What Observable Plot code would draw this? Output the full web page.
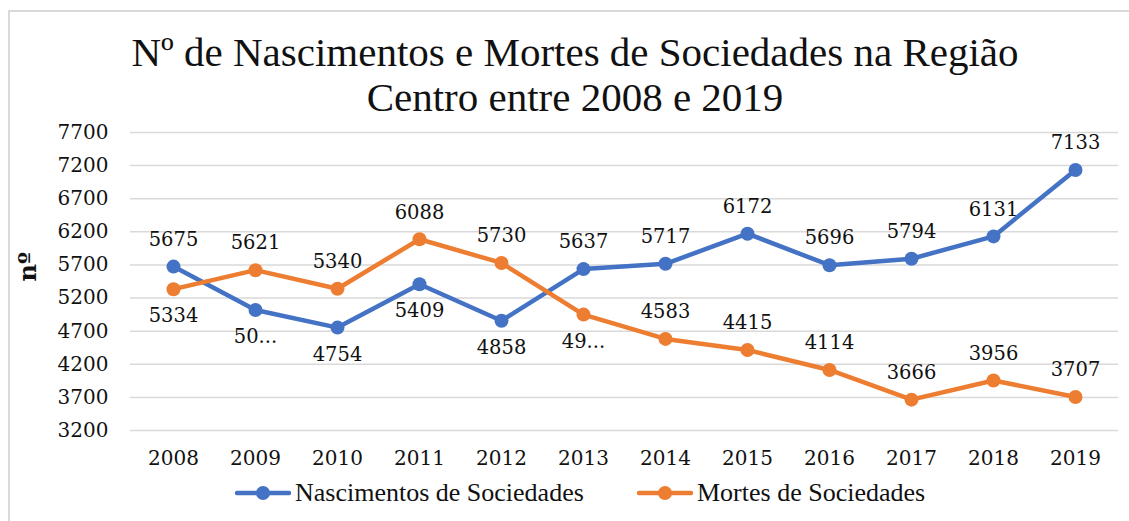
<!DOCTYPE html>
<html>
<head>
<meta charset="utf-8">
<script src="https://cdn.jsdelivr.net/npm/d3@7"></script>
<script src="https://cdn.jsdelivr.net/npm/@observablehq/plot@0.6"></script>
<style>
  html, body { margin: 0; padding: 0; background: #fff; }
  #wrap { position: relative; width: 1129px; height: 521px; overflow: hidden; }
  #border { position: absolute; left: 8px; top: 10px; width: 1200px; height: 600px;
            border-top: 2px solid #d9d9d9; border-left: 2px solid #d9d9d9; box-sizing: border-box; }
  #title { position: absolute; left: 575px; top: 30px; transform: translateX(-50%);
           font-family: "Liberation Serif", serif; font-size: 41px; line-height: 45px;
           text-align: center; white-space: nowrap; color: #111; }
  #chart { position: absolute; left: 0; top: 0; }
  #legend { position: absolute; left: 0; top: 479px; width: 1129px; font-family: "Liberation Serif", serif;
            font-size: 26px; color: #111; }
  .item { position: absolute; top: 0; display: flex; align-items: center; height: 28px; white-space: nowrap; }
  .item svg { margin-right: 4px; }
</style>
</head>
<body>
<div id="wrap">
  <div id="border"></div>
  <div id="chart"></div>
  <div id="title">Nº de Nascimentos e Mortes de Sociedades na Região<br>Centro entre 2008 e 2019</div>
  <div id="legend"></div>
</div>
<script>
const years = [2008, 2009, 2010, 2011, 2012, 2013, 2014, 2015, 2016, 2017, 2018, 2019];
const nascimentos = [5675, 5020, 4754, 5409, 4858, 5637, 5717, 6172, 5696, 5794, 6131, 7133];
const nascimentosLabels = ["5675", "50...", "4754", "5409", "4858", "5637", "5717", "6172", "5696", "5794", "6131", "7133"];
const mortes = [5334, 5621, 5340, 6088, 5730, 4950, 4583, 4415, 4114, 3666, 3956, 3707];
const mortesLabels = ["5334", "5621", "5340", "6088", "5730", "49...", "4583", "4415", "4114", "3666", "3956", "3707"];
const yTicks = [3200, 3700, 4200, 4700, 5200, 5700, 6200, 6700, 7200, 7700];
const seriesNames = ["Nascimentos de Sociedades", "Mortes de Sociedades"];
const seriesColors = ["#4472C4", "#ED7D31"];
// years whose data label sits below the point
const labelsBelow = { [seriesNames[0]]: [2009, 2010, 2011, 2012], [seriesNames[1]]: [2008, 2013] };

const rows = [];
years.forEach((yr, i) => {
  rows.push({ year: yr, value: nascimentos[i], label: nascimentosLabels[i], series: seriesNames[0] });
});
years.forEach((yr, i) => {
  rows.push({ year: yr, value: mortes[i], label: mortesLabels[i], series: seriesNames[1] });
});
const isBelow = d => labelsBelow[d.series].includes(d.year);

const plot = Plot.plot({
  width: 1129,
  height: 521,
  marginTop: 132,
  marginBottom: 91,
  marginLeft: 130,
  marginRight: 11,
  style: { fontFamily: "DejaVu Serif", fontSize: "19px", color: "#111", background: "transparent", overflow: "visible" },
  x: { type: "point", domain: years, padding: 0.5, label: null },
  y: { domain: [3200, 7700], ticks: yTicks, label: null },
  color: { domain: seriesNames, range: seriesColors },
  marks: [
    Plot.ruleY(yTicks, { stroke: "#d9d9d9", strokeWidth: 1.5 }),
    Plot.axisY(yTicks, { tickSize: 0, tickPadding: 22, fontSize: 20, tickFormat: d => String(d) }),
    Plot.axisX(years, { tickSize: 0, tickPadding: 20, fontSize: 20, tickFormat: d => String(d) }),
    Plot.text(["nº"], { frameAnchor: "left", dx: -102, dy: 0, rotate: -90, fontSize: 24, fontWeight: "bold", fill: "#111" }),
    Plot.line(rows, { x: "year", y: "value", stroke: "series", z: "series", strokeWidth: 4.5, strokeLinejoin: "round" }),
    Plot.dot(rows, { x: "year", y: "value", fill: "series", r: 7 }),
    Plot.text(rows, { x: "year", y: "value", text: "label", fill: "#111", fontSize: 19.5,
      filter: d => !isBelow(d), dy: -27 }),
    Plot.text(rows, { x: "year", y: "value", text: "label", fill: "#111", fontSize: 19.5,
      filter: d => isBelow(d), dy: 27 })
  ]
});
document.getElementById("chart").appendChild(plot);

// legend
const legend = document.getElementById("legend");
const legendX = [235, 637];
seriesNames.forEach((name, i) => {
  const item = document.createElement("div");
  item.className = "item";
  item.style.left = legendX[i] + "px";
  item.innerHTML = `<svg width="56" height="16"><line x1="2" y1="8" x2="54" y2="8" stroke="${seriesColors[i]}" stroke-width="4.5" stroke-linecap="round"/><circle cx="28" cy="8" r="7" fill="${seriesColors[i]}"/></svg><span>${name}</span>`;
  legend.appendChild(item);
});
</script>
</body>
</html>
